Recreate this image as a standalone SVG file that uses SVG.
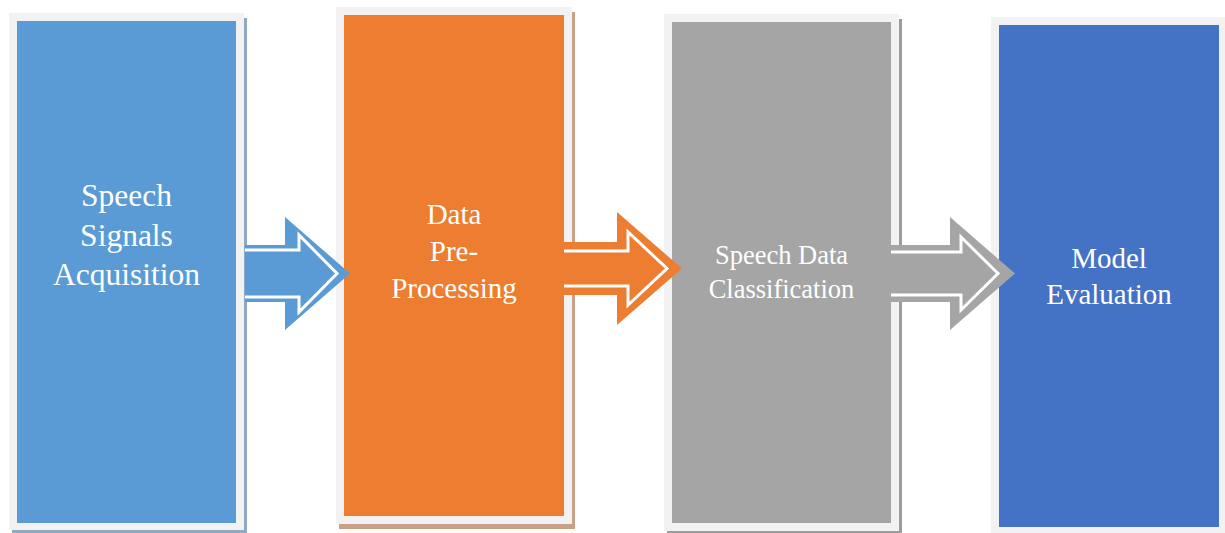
<svg xmlns="http://www.w3.org/2000/svg" width="1225" height="533" viewBox="0 0 1225 533">
  <style>
    .frame { fill: #F2F2F2; }
    .label { font-family: "Liberation Serif", "Times New Roman", serif; fill: #FFFFFF; text-anchor: middle; }
    .inner { fill: none; stroke: #FFFFFF; stroke-width: 3; stroke-linejoin: miter; }
  </style>
  <rect width="1225" height="533" fill="#FFFFFF"/>

  <!-- Stage 1 -->
  <g id="node-acquisition">
    <rect x="12" y="18" width="235" height="515" fill="#8FAAC6"/>
    <rect class="frame" x="9" y="13" width="235" height="517"/>
    <rect x="17" y="21" width="219" height="502" fill="#5B9BD5"/>
    <text class="label" font-size="31.5" x="126.5" y="206">Speech</text>
    <text class="label" font-size="31.5" x="126.5" y="246">Signals</text>
    <text class="label" font-size="31.5" x="126.5" y="285">Acquisition</text>
  </g>

  <!-- Stage 2 -->
  <g id="node-preprocessing">
    <rect x="339" y="12" width="236" height="517" fill="#C9A088"/>
    <rect class="frame" x="336" y="7" width="236" height="517"/>
    <rect x="344" y="15" width="220" height="501" fill="#ED7D31"/>
    <text class="label" font-size="29" x="454" y="224">Data</text>
    <text class="label" font-size="29" x="454" y="261">Pre-</text>
    <text class="label" font-size="29" x="454" y="298">Processing</text>
  </g>

  <!-- Stage 3 -->
  <g id="node-classification">
    <rect x="667" y="19" width="235" height="516" fill="#9C9C9C"/>
    <rect class="frame" x="664" y="14" width="235" height="517"/>
    <rect x="672" y="22" width="219" height="501" fill="#A5A5A5"/>
    <text class="label" font-size="26.5" x="781.5" y="264">Speech Data</text>
    <text class="label" font-size="26.5" x="781.5" y="298">Classification</text>
  </g>

  <!-- Stage 4 -->
  <g id="node-evaluation">
    <rect class="frame" x="991" y="17" width="234" height="516"/>
    <rect x="999" y="25" width="220" height="502" fill="#4472C4"/>
    <text class="label" font-size="29" x="1109" y="268">Model</text>
    <text class="label" font-size="29" x="1109" y="304">Evaluation</text>
  </g>

  <!-- Block arrows between stages -->
  <g id="connectors">
    <path d="M245,245 H285 V217 L350,273.5 L285,330 V302 H245 Z" fill="#5B9BD5"/>
    <path class="inner" d="M245,250 H299 V235 L337,273.5 L299,312 V297 H245"/>

    <path d="M564,242 H617 V212 L682,268.5 L617,325 V295 H564 Z" fill="#ED7D31"/>
    <path class="inner" d="M564,251 H628 V232 L667,268.5 L628,305 V286 H564"/>

    <path d="M891,245 H950 V217 L1015,273.5 L950,330 V302 H891 Z" fill="#A5A5A5"/>
    <path class="inner" d="M891,252 H961 V237 L998,273.5 L961,310 V295 H891"/>
  </g>
</svg>
